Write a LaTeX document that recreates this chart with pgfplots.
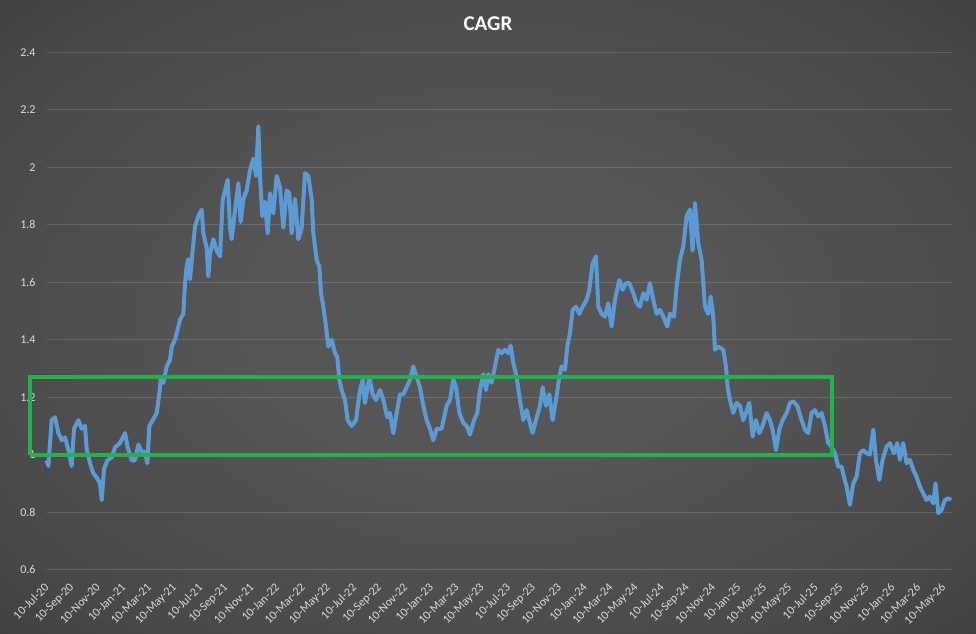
\documentclass[border=0pt]{standalone}
\usepackage{fontspec}
\setmainfont{Carlito}
\usepackage{pgfplots}
\pgfplotsset{compat=1.18}
\definecolor{bgin}{HTML}{565656}
\definecolor{bgmid}{HTML}{484848}
\definecolor{bgout}{HTML}{1E1E1E}
\definecolor{linec}{HTML}{5B9BD5}
\definecolor{boxc}{HTML}{22B14C}
\definecolor{lab}{HTML}{D9D9D9}
\pgfdeclareradialshading{bgshade}{\pgfpoint{0bp}{0bp}}{color(0bp)=(bgin); color(12bp)=(bgin); color(30bp)=(bgmid); color(55bp)=(bgout!80!bgmid); color(71bp)=(bgout)}
\begin{document}
\begin{tikzpicture}
\shade[shading=bgshade] (0,0) rectangle (976bp,634bp);
\path[use as bounding box] (0,0) rectangle (976bp,634bp);
\node[text=white, font=\bfseries\fontsize{21bp}{24bp}\selectfont] at (488bp,610bp) {CAGR};
\begin{axis}[
  at={(46.7bp,64.5bp)}, anchor=south west,
  scale only axis, width=905bp, height=517bp,
  xmin=0, xmax=70.6, ymin=0.6, ymax=2.4,
  clip=false,
  axis line style={draw=none},
  major tick length=0pt,
  ytick={0.6,0.8,1,1.2,1.4,1.6,1.8,2,2.2,2.4},
  yticklabels={0.6,0.8,1,1.2,1.4,1.6,1.8,2,2.2,2.4},
  ymajorgrids,
  major grid style={white, opacity=0.14, line width=1bp},
  xtick={0,2,...,70},
  xticklabels={10-Jul-20,10-Sep-20,10-Nov-20,10-Jan-21,10-Mar-21,10-May-21,10-Jul-21,10-Sep-21,10-Nov-21,10-Jan-22,10-Mar-22,10-May-22,10-Jul-22,10-Sep-22,10-Nov-22,10-Jan-23,10-Mar-23,10-May-23,10-Jul-23,10-Sep-23,10-Nov-23,10-Jan-24,10-Mar-24,10-May-24,10-Jul-24,10-Sep-24,10-Nov-24,10-Jan-25,10-Mar-25,10-May-25,10-Jul-25,10-Sep-25,10-Nov-25,10-Jan-26,10-Mar-26,10-May-26},
  ticklabel style={text=lab, font=\fontsize{12bp}{14bp}\selectfont},
  xticklabel style={yshift=-16bp, xshift=0bp, rotate=45, anchor=east, inner sep=0pt},
  yticklabel style={anchor=east, inner sep=0pt, xshift=-11bp},
]
\addplot[line width=4bp, color=linec, line join=round] coordinates {
(0.00,0.98)(0.13,0.96)(0.39,1.12)(0.65,1.13)(0.91,1.075)(1.17,1.05)(1.43,1.06)(1.69,1.016)(1.95,0.96)(2.13,1.09)(2.47,1.12)(2.73,1.09)(2.99,1.10)(3.12,1.02)(3.38,0.97)(3.64,0.935)(3.90,0.92)(4.16,0.90)(4.29,0.842)(4.47,0.95)(4.73,0.98)(5.07,0.99)(5.33,1.025)(5.72,1.04)(6.11,1.075)(6.32,1.025)(6.63,0.98)(6.89,0.98)(7.15,1.035)(7.41,1.01)(7.67,1.01)(7.85,0.97)(8.01,1.10)(8.27,1.12)(8.58,1.144)(8.79,1.214)(8.92,1.27)(9.10,1.25)(9.36,1.307)(9.62,1.33)(9.75,1.376)(10.01,1.40)(10.27,1.446)(10.40,1.47)(10.66,1.49)(10.79,1.597)(10.92,1.655)(11.05,1.68)(11.18,1.61)(11.39,1.713)(11.57,1.794)(11.83,1.83)(12.09,1.853)(12.22,1.77)(12.48,1.72)(12.61,1.62)(12.74,1.70)(13.00,1.75)(13.26,1.71)(13.52,1.69)(13.73,1.887)(13.91,1.92)(14.12,1.957)(14.30,1.79)(14.43,1.75)(14.69,1.85)(14.95,1.945)(15.13,1.81)(15.34,1.89)(15.60,1.92)(15.86,1.99)(16.12,2.03)(16.33,1.97)(16.51,2.143)(16.64,1.97)(16.82,1.83)(17.03,1.88)(17.24,1.77)(17.42,1.91)
(17.68,1.84)(17.94,1.97)(18.20,1.93)(18.46,1.79)(18.72,1.92)(18.93,1.91)(19.11,1.77)(19.37,1.89)(19.63,1.75)(19.89,1.79)(20.15,1.98)(20.41,1.97)(20.67,1.89)(20.80,1.77)(21.06,1.678)(21.27,1.655)(21.40,1.562)(21.58,1.515)(21.79,1.446)(21.97,1.376)(22.23,1.40)(22.49,1.353)(22.67,1.34)(22.83,1.26)(23.01,1.225)(23.27,1.19)(23.48,1.12)(23.79,1.10)(24.13,1.12)(24.44,1.225)(24.65,1.26)(24.83,1.18)(25.17,1.27)(25.43,1.21)(25.69,1.19)(26.00,1.225)(26.26,1.19)(26.57,1.13)(26.78,1.145)(27.04,1.075)(27.30,1.145)(27.56,1.21)(27.82,1.21)(28.08,1.235)(28.34,1.26)(28.60,1.307)(28.86,1.27)(29.12,1.235)(29.38,1.17)(29.64,1.12)(29.90,1.09)(30.16,1.05)(30.42,1.09)(30.81,1.09)(31.20,1.17)(31.46,1.19)(31.72,1.26)(31.93,1.235)(32.19,1.145)(32.50,1.11)(32.76,1.10)(33.02,1.07)(33.33,1.12)(33.59,1.145)
(33.80,1.225)(34.06,1.28)(34.27,1.225)(34.45,1.28)(34.71,1.25)(34.97,1.307)(35.23,1.365)(35.49,1.353)(35.75,1.365)(36.01,1.353)(36.19,1.38)(36.40,1.32)(36.66,1.27)(36.92,1.19)(37.18,1.12)(37.44,1.155)(37.70,1.11)(37.91,1.075)(38.17,1.12)(38.48,1.17)(38.69,1.235)(38.95,1.17)(39.21,1.21)(39.47,1.12)(39.73,1.19)(39.99,1.27)(40.17,1.307)(40.43,1.295)(40.61,1.376)(40.82,1.423)(41.03,1.504)(41.29,1.515)(41.55,1.49)(41.81,1.515)(42.12,1.539)(42.33,1.574)(42.59,1.667)(42.85,1.69)(43.03,1.515)(43.29,1.49)(43.55,1.48)(43.81,1.527)(44.07,1.446)(44.33,1.539)(44.67,1.608)(44.93,1.574)(45.19,1.597)(45.45,1.597)(45.76,1.562)(46.02,1.527)(46.28,1.515)(46.54,1.562)(46.80,1.539)(47.06,1.597)(47.32,1.539)(47.58,1.49)(47.84,1.504)(48.10,1.48)(48.41,1.446)(48.62,1.49)(48.93,1.48)(49.14,1.585)(49.40,1.678)(49.66,1.725)(49.92,1.83)(50.18,1.853)(50.39,1.71)(50.57,1.876)(50.83,1.736)(51.09,1.678)
(51.35,1.515)(51.61,1.49)(51.79,1.55)(52.00,1.48)(52.13,1.365)(52.39,1.376)(52.78,1.365)(52.99,1.307)(53.12,1.235)(53.30,1.19)(53.56,1.145)(53.82,1.18)(54.08,1.17)(54.34,1.12)(54.55,1.145)(54.81,1.18)(55.07,1.063)(55.33,1.12)(55.59,1.075)(55.85,1.10)(56.16,1.145)(56.42,1.12)(56.63,1.087)(56.89,1.016)(57.15,1.087)(57.41,1.12)(57.72,1.145)(57.98,1.18)(58.24,1.185)(58.55,1.17)(58.89,1.12)(59.15,1.087)(59.41,1.075)(59.67,1.145)(59.93,1.155)(60.19,1.133)(60.45,1.145)(60.71,1.10)(60.97,1.04)(61.23,1.028)(61.49,1.005)(61.75,0.958)(62.01,0.958)(62.19,0.923)(62.40,0.888)(62.66,0.825)(62.92,0.9)(63.18,0.923)(63.44,1.005)(63.70,1.016)(63.96,1.005)(64.22,1.0)(64.48,1.087)(64.69,0.982)(64.95,0.912)(65.21,0.982)(65.52,1.028)(65.78,1.04)(66.09,1.005)(66.35,1.04)(66.56,0.982)(66.82,1.04)(67.08,0.97)(67.34,0.982)(67.60,0.947)(67.86,0.923)(68.12,0.888)(68.38,0.865)(68.64,0.842)(68.90,0.854)(69.16,0.83)(69.34,0.9)(69.55,0.796)(69.81,0.808)(70.07,0.842)(70.33,0.848)(70.54,0.842)
};
\addplot[line width=4bp, color=boxc, line join=miter] coordinates {
(-1.30,1.0)(61.28,1.0)(61.28,1.27)(-1.30,1.27)(-1.30,1.0)
};
\end{axis}
\end{tikzpicture}
\end{document}
